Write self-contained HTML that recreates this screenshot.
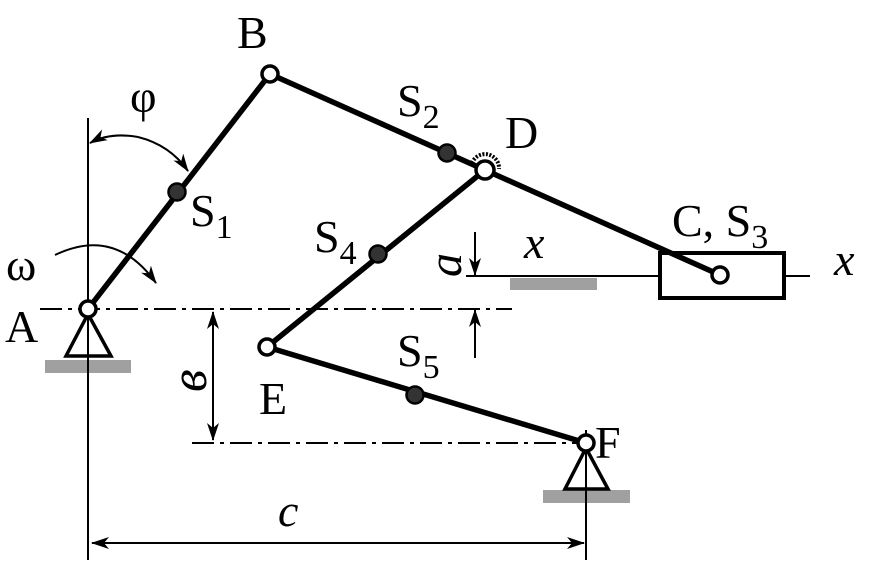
<!DOCTYPE html>
<html><head><meta charset="utf-8"><style>
html,body{margin:0;padding:0;background:#fff;}
svg{display:block;}
text{font-family:"Liberation Serif","DejaVu Serif",serif;fill:#000;}
</style></head><body>
<svg width="877" height="570" viewBox="0 0 877 570" xmlns="http://www.w3.org/2000/svg">
<defs>
<marker id="ar" markerWidth="18" markerHeight="12" refX="17" refY="6" orient="auto" markerUnits="userSpaceOnUse">
<path d="M0,0 L18,6 L0,12 L5,6 Z" fill="#000"/></marker>
</defs>
<rect x="45" y="360" width="86" height="13" fill="#a0a0a0"/>
<rect x="543" y="490" width="87" height="13" fill="#a0a0a0"/>
<rect x="510" y="278" width="87" height="12" fill="#a0a0a0"/>
<g stroke="#000" stroke-width="2" fill="none">
<line x1="88" y1="118" x2="88" y2="560"/>
<line x1="586" y1="430" x2="586" y2="560"/>
<line x1="40" y1="309" x2="512" y2="309" stroke-dasharray="22,6,4,6"/>
<line x1="192" y1="443" x2="590" y2="443" stroke-dasharray="22,6,4,6"/>
<line x1="466" y1="276" x2="658" y2="276"/>
<line x1="785" y1="276" x2="810" y2="276"/>
<line x1="92" y1="543" x2="584" y2="543" marker-end="url(#ar)"/>
<line x1="584" y1="543" x2="92" y2="543" marker-end="url(#ar)"/>
<line x1="213" y1="440" x2="213" y2="312" marker-end="url(#ar)"/>
<line x1="213" y1="312" x2="213" y2="440" marker-end="url(#ar)"/>
<line x1="475" y1="232" x2="475" y2="275" marker-end="url(#ar)"/>
<line x1="475" y1="358" x2="475" y2="310" marker-end="url(#ar)"/>
<path d="M138,137 Q170,145 188,171" marker-end="url(#ar)"/>
<path d="M138,137 Q110,132 90,143" marker-end="url(#ar)"/>
<path d="M55,255 Q115,226 156,283" marker-end="url(#ar)"/>
</g>
<g stroke="#000" stroke-width="3.5" fill="#fff">
<path d="M88,314 L66,356 L111,356 Z"/>
<path d="M586,448 L565,489 L608,489 Z"/>
<rect x="660" y="253" width="124" height="45" stroke-width="4"/>
</g>
<line x1="88" y1="316" x2="88" y2="360" stroke="#000" stroke-width="2"/>
<line x1="586" y1="448" x2="586" y2="490" stroke="#000" stroke-width="2"/>
<g stroke="#000" stroke-width="5.5" fill="none">
<line x1="88" y1="309" x2="270" y2="74"/>
<line x1="270" y1="74" x2="485" y2="170"/>
<line x1="485" y1="170" x2="720" y2="275"/>
<line x1="485" y1="170" x2="267" y2="347"/>
<line x1="267" y1="347" x2="586" y2="443"/>
</g>
<path d="M472,163 A14,14 0 0 1 499,169" stroke="#000" stroke-width="4" stroke-dasharray="2,1.5" fill="none"/>
<g stroke="#000" stroke-width="3.5" fill="#fff">
<circle cx="88" cy="309" r="8"/>
<circle cx="270" cy="74" r="8"/>
<circle cx="485" cy="170" r="9"/>
<circle cx="720" cy="275" r="8"/>
<circle cx="267" cy="347" r="8"/>
<circle cx="586" cy="443" r="8"/>
</g>
<g fill="#333" stroke="#000" stroke-width="2.5">
<circle cx="177" cy="192" r="8.5"/>
<circle cx="447" cy="153" r="8.5"/>
<circle cx="378" cy="254" r="8.5"/>
<circle cx="415" cy="395" r="8.5"/>
</g>
<g font-size="46">
<text x="237" y="48">B</text>
<text x="505" y="148">D</text>
<text x="5" y="342">A</text>
<text x="259" y="414">E</text>
<text x="595" y="458">F</text>
<text x="6" y="280">ω</text>
<text x="130" y="112">φ</text>
<text x="190" y="226">S<tspan font-size="34" dy="12">1</tspan></text>
<text x="397" y="116">S<tspan font-size="34" dy="12">2</tspan></text>
<text x="314" y="252">S<tspan font-size="34" dy="12">4</tspan></text>
<text x="397" y="366">S<tspan font-size="34" dy="12">5</tspan></text>
<text x="672" y="236">C, S<tspan font-size="34" dy="12">3</tspan></text>
<text x="524" y="258" font-style="italic">x</text>
<text x="834" y="275" font-style="italic">x</text>
<text x="278" y="526" font-style="italic">c</text>
</g>
<text font-size="48" font-style="italic" transform="translate(461,277) rotate(-90)" x="0" y="0">a</text>
<text font-size="52" font-style="italic" transform="translate(206,392) rotate(-90)" x="0" y="0">в</text>
</svg>
</body></html>
